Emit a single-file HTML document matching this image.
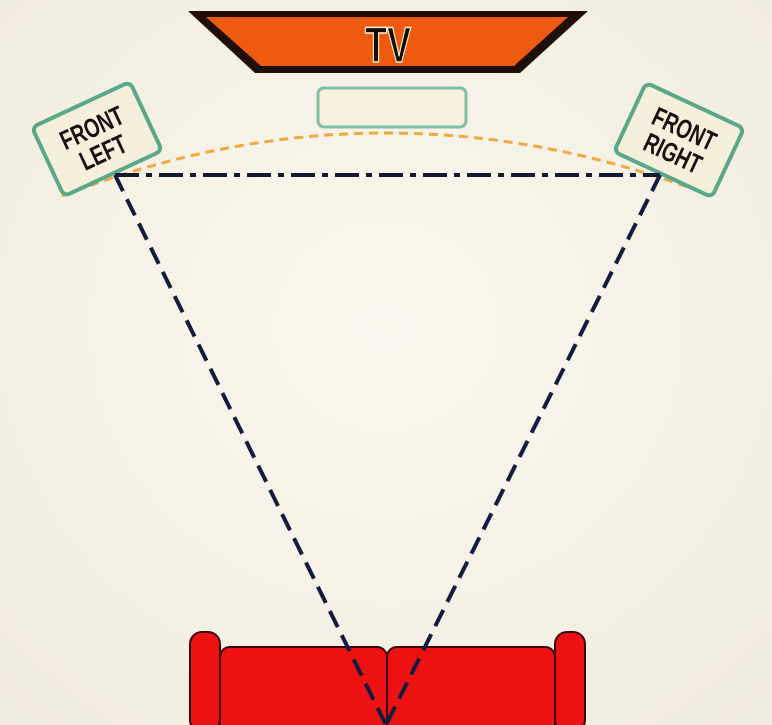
<!DOCTYPE html>
<html><head><style>
html,body{margin:0;padding:0;background:#f6f1e6;}
svg{display:block}
</style></head><body>
<svg width="772" height="725" viewBox="0 0 772 725" xmlns="http://www.w3.org/2000/svg">
<defs>
<radialGradient id="bg" cx="50%" cy="45%" r="75%"><stop offset="0" stop-color="#fbf8ee"/><stop offset="1" stop-color="#f0ebde"/></radialGradient>
</defs>
<rect width="772" height="725" fill="url(#bg)"/>
<polygon points="188,11 588,11 520,73 255,73" fill="#1f0f08"/>
<polygon points="206,17 568,17 514,66 261,66" fill="#ee5a10"/>
<g transform="translate(388,62) scale(0.72,1)">
<text x="0" y="0" text-anchor="middle" font-family="Liberation Sans, sans-serif" font-weight="bold" font-size="50" fill="#1a0a05" stroke="#fff3d0" stroke-width="1.5">TV</text>
</g>
<rect x="318" y="88" width="148" height="39" rx="6" fill="#f7f1e0" stroke="#7fbfa5" stroke-width="3"/>
<path d="M62,196 Q385,70 712,196" fill="none" stroke="#f0a840" stroke-width="3" stroke-dasharray="9,6"/>
<g transform="translate(97,139) rotate(-25)">
<rect x="-54" y="-38" width="108" height="76" rx="6" fill="#f5f0dc" stroke="#5aa888" stroke-width="4"/>
<g transform="scale(0.72,1)">
<text x="0" y="-3" text-anchor="middle" font-family="Liberation Sans, sans-serif" font-weight="bold" font-size="27" fill="#1a1010">FRONT</text>
<text x="0" y="24" text-anchor="middle" font-family="Liberation Sans, sans-serif" font-weight="bold" font-size="27" fill="#1a1010">LEFT</text>
</g>
</g>
<g transform="translate(679,140) rotate(25)">
<rect x="-54" y="-38" width="108" height="76" rx="6" fill="#f5f0dc" stroke="#5aa888" stroke-width="4"/>
<g transform="scale(0.72,1)">
<text x="0" y="-3" text-anchor="middle" font-family="Liberation Sans, sans-serif" font-weight="bold" font-size="27" fill="#1a1010">FRONT</text>
<text x="0" y="24" text-anchor="middle" font-family="Liberation Sans, sans-serif" font-weight="bold" font-size="27" fill="#1a1010">RIGHT</text>
</g>
</g>
<line x1="115" y1="175" x2="660" y2="175" stroke="#141a30" stroke-width="4" stroke-dasharray="24,7,6,7"/>
<rect x="190" y="632" width="30" height="100" rx="12" fill="#ee1111" stroke="#3a0808" stroke-width="2"/>
<rect x="555" y="632" width="30" height="100" rx="12" fill="#ee1111" stroke="#3a0808" stroke-width="2"/>
<rect x="220" y="647" width="167" height="90" rx="10" fill="#ee1111" stroke="#3a0808" stroke-width="2"/>
<rect x="387" y="647" width="168" height="90" rx="10" fill="#ee1111" stroke="#3a0808" stroke-width="2"/>
<line x1="115" y1="175" x2="386" y2="725" stroke="#141a40" stroke-width="4" stroke-dasharray="18,9"/>
<line x1="660" y1="175" x2="386" y2="725" stroke="#141a40" stroke-width="4" stroke-dasharray="18,9"/>
</svg>
</body></html>
